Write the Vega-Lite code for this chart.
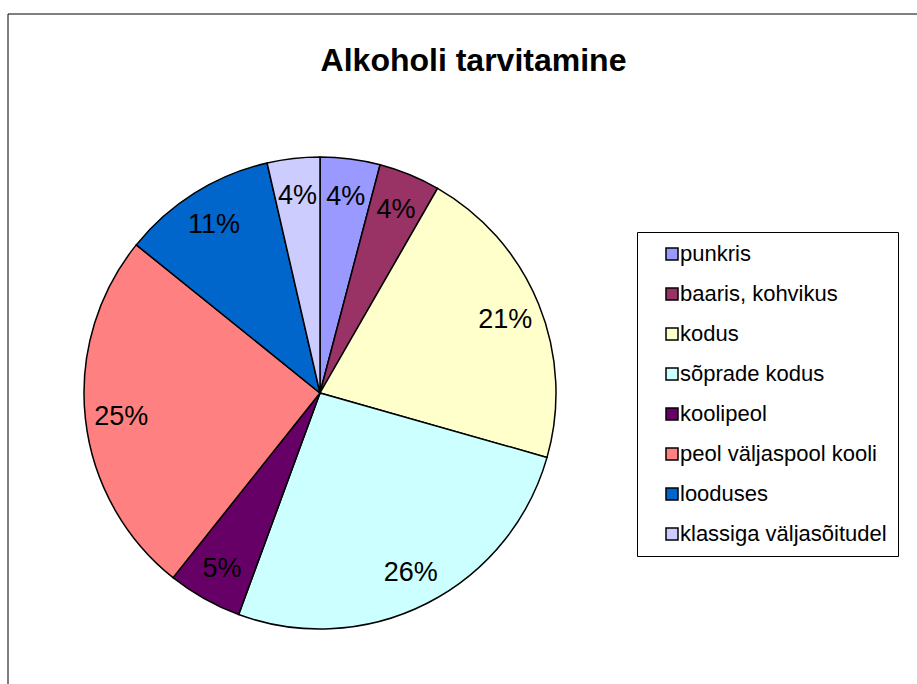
{
  "$schema": "https://vega.github.io/schema/vega-lite/v6.json",
  "width": 909,
  "height": 670,
  "autosize": "none",
  "padding": {"left": 8, "top": 14, "right": 0, "bottom": 0},
  "background": "white",
  "config": {
    "view": {"stroke": null},
    "font": "Liberation Sans"
  },
  "title": {
    "text": "Alkoholi tarvitamine",
    "font": "Liberation Sans",
    "fontSize": 32,
    "fontWeight": "bold",
    "color": "#000000",
    "anchor": "middle",
    "frame": "group",
    "orient": "top",
    "baseline": "alphabetic",
    "offset": -89,
    "dx": 11
  },
  "layer": [
    {
      "data": {"values": [{"frame": 1}]},
      "mark": {"type": "rect", "fill": null, "stroke": "#000000", "strokeWidth": 1, "x": 0, "y": 0, "x2": {"expr": "width + 6"}, "y2": {"expr": "height + 6"}},
      "encoding": {}
    },
    {
      "data": {
        "values": [
          {"category": "punkris", "value": 0.041, "order": 1},
          {"category": "baaris, kohvikus", "value": 0.042, "order": 2},
          {"category": "kodus", "value": 0.211, "order": 3},
          {"category": "sõprade kodus", "value": 0.262, "order": 4},
          {"category": "koolipeol", "value": 0.051, "order": 5},
          {"category": "peol väljaspool kooli", "value": 0.251, "order": 6},
          {"category": "looduses", "value": 0.106, "order": 7},
          {"category": "klassiga väljasõitudel", "value": 0.036, "order": 8}
        ]
      },
      "encoding": {
        "theta": {"field": "value", "type": "quantitative", "stack": true},
        "order": {"field": "order", "type": "quantitative"},
        "color": {
          "field": "category",
          "type": "nominal",
          "scale": {
            "domain": ["punkris", "baaris, kohvikus", "kodus", "sõprade kodus", "koolipeol", "peol väljaspool kooli", "looduses", "klassiga väljasõitudel"],
            "range": ["#9999FF", "#993366", "#FFFFCC", "#CCFFFF", "#660066", "#FF8080", "#0066CC", "#CCCCFF"]
          },
          "legend": {
            "title": null,
            "orient": "none",
            "legendX": 629,
            "legendY": 218,
            "direction": "vertical",
            "padding": 11,
            "strokeColor": "#000000",
            "fillColor": "#FFFFFF",
            "symbolType": "square",
            "symbolSize": 144,
            "symbolStrokeColor": "#000000",
            "symbolStrokeWidth": 1.5,
            "symbolOpacity": 1,
            "symbolOffset": 13,
            "labelOffset": -3,
            "labelFont": "Liberation Sans",
            "labelFontSize": 22,
            "labelColor": "#000000",
            "labelLimit": 400,
            "rowPadding": 18
          }
        }
      },
      "layer": [
        {
          "mark": {"type": "arc", "outerRadius": 236, "stroke": "#000000", "strokeWidth": 1.5, "xOffset": -142.5, "yOffset": 44}
        },
        {
          "mark": {"type": "text", "radius": 200, "fontSize": 27, "font": "Liberation Sans", "fill": "#000000", "xOffset": -142.5, "yOffset": 46},
          "encoding": {
            "text": {"field": "value", "type": "quantitative", "format": ".0%"},
            "color": {"value": "#000000"}
          }
        }
      ]
    }
  ]
}
